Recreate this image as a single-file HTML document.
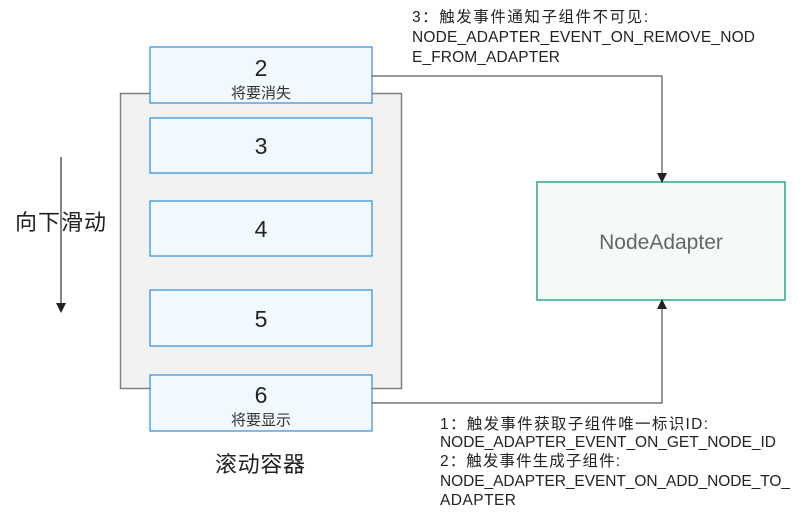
<!DOCTYPE html>
<html><head><meta charset="utf-8"><style>
body{margin:0;background:#fff;}
svg{display:block;font-family:"Liberation Sans","Noto Sans CJK SC",sans-serif;}
</style></head><body>
<svg width="808" height="523" viewBox="0 0 808 523" xmlns="http://www.w3.org/2000/svg">
<defs><marker id="a" markerWidth="10" markerHeight="10" refX="9" refY="5" orient="auto" markerUnits="userSpaceOnUse"><path d="M0,0 L10,5 L0,10 z" fill="#222"/></marker></defs>
<rect x="120.5" y="93.5" width="281" height="295" fill="#f2f2f2" stroke="#808080" stroke-width="1.5"/>
<g fill="#f1f8fe" stroke="#2f8ee0" stroke-width="1.2">
<rect x="150" y="47" width="222" height="56"/>
<rect x="150" y="118" width="222" height="55"/>
<rect x="150" y="201" width="222" height="55"/>
<rect x="150" y="290" width="222" height="56"/>
<rect x="150" y="375" width="222" height="56"/>
</g>
<g fill="#222" font-size="23" text-anchor="middle">
<text x="261" y="76">2</text>
<text x="261" y="154">3</text>
<text x="261" y="237">4</text>
<text x="261" y="327">5</text>
<text x="261" y="403">6</text>
</g>
<g fill="#333" font-size="15" text-anchor="middle">
<text x="261" y="98">将要消失</text>
<text x="261" y="425">将要显示</text>
</g>
<rect x="537" y="182" width="248" height="118" fill="#f4faf6" stroke="#2aa88a" stroke-width="1.5"/>
<text x="661" y="249" font-size="21" fill="#666" text-anchor="middle">NodeAdapter</text>
<path d="M372,76 H662 V182" fill="none" stroke="#333" stroke-width="1" marker-end="url(#a)"/>
<path d="M372,403 H662 V300" fill="none" stroke="#333" stroke-width="1" marker-end="url(#a)"/>
<path d="M61,157 V312" fill="none" stroke="#333" stroke-width="1.2" marker-end="url(#a)"/>
<text x="15" y="230" font-size="22" fill="#222" textLength="91">向下滑动</text>
<text x="215" y="472" font-size="22" fill="#222" textLength="90">滚动容器</text>
<g font-size="15.5" fill="#222">
<text x="412" y="22" textLength="236">3：触发事件通知子组件不可见:</text>
<text x="412" y="42" textLength="343">NODE_ADAPTER_EVENT_ON_REMOVE_NOD</text>
<text x="412" y="62" textLength="148">E_FROM_ADAPTER</text>
<text x="440" y="429" textLength="268">1：触发事件获取子组件唯一标识ID:</text>
<text x="440" y="447" textLength="336">NODE_ADAPTER_EVENT_ON_GET_NODE_ID</text>
<text x="440" y="466" textLength="180">2：触发事件生成子组件:</text>
<text x="440" y="486" textLength="350">NODE_ADAPTER_EVENT_ON_ADD_NODE_TO_</text>
<text x="440" y="505" textLength="76">ADAPTER</text>
</g>
</svg>
</body></html>
